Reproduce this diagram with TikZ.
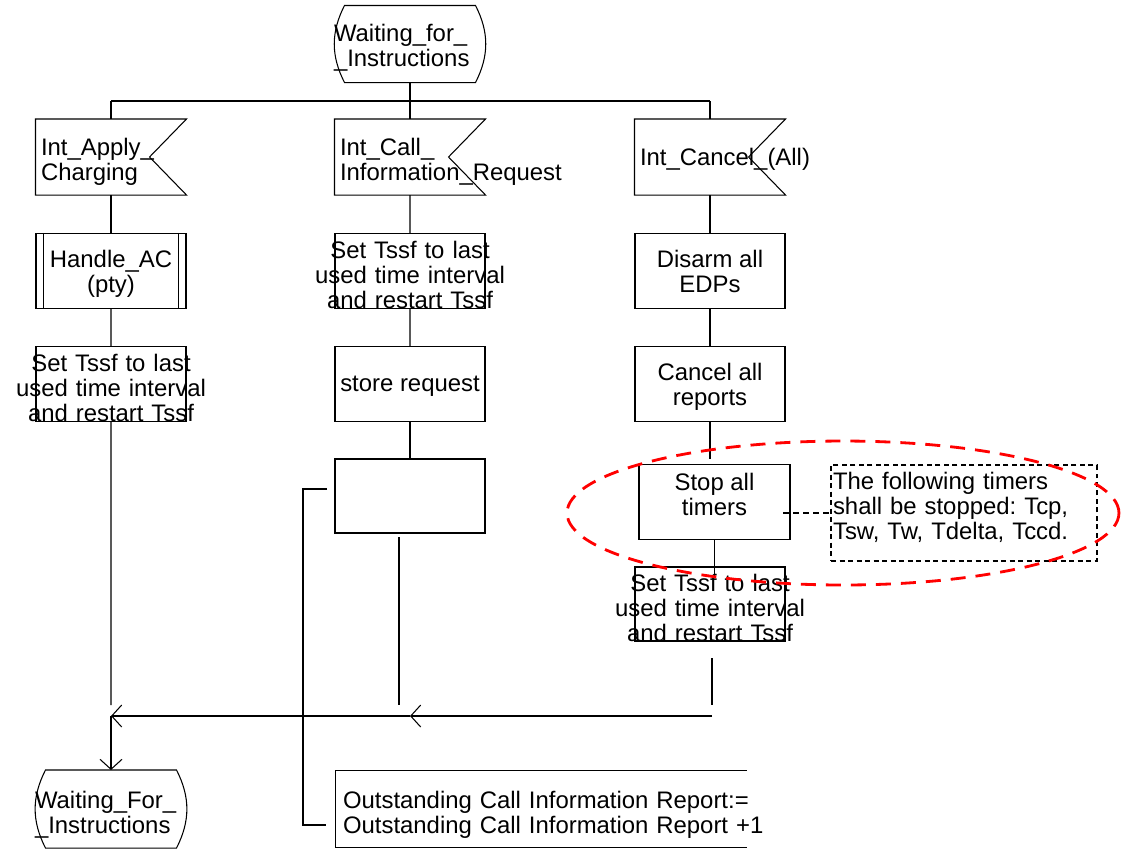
\documentclass[tikz,border=0pt]{standalone}
\usepackage{fontspec}
\setmainfont{Liberation Sans}
\usepackage{tikz}
\usetikzlibrary{arrows.meta, shapes.geometric}
\newcommand{\sdlfont}{\fontsize{13.6pt}{14.2pt}\selectfont\frenchspacing\hyphenpenalty=10000 }
% SDL symbol outlines drawn round named nodes
\newcommand{\sdlstate}[1]{\draw (#1.north west) to[bend right=27] (#1.south west)
    -- (#1.south east) to[bend right=27] (#1.north east) -- cycle;}
\newcommand{\sdlinput}[1]{\draw (#1.north west) -- (#1.north east)
    -- ([xshift=-0.74cm]#1.east) -- (#1.south east) -- (#1.south west) -- cycle;}
\newcommand{\sdlproc}[1]{\draw ([xshift=0.16cm]#1.north west) -- ([xshift=0.16cm]#1.south west)
    ([xshift=-0.16cm]#1.north east) -- ([xshift=-0.16cm]#1.south east);}
\tikzset{
    statebox/.style={minimum height=1.52cm, text width=3.04cm, inner xsep=-0.22cm,
        inner ysep=0pt, align=left, text depth=12.8pt},
    sigbox/.style={minimum width=3cm, minimum height=1.5cm, text width=2.8cm,
        inner xsep=0.1cm, inner ysep=0pt, align=left, text depth=11.1pt},
    taskbox/.style={draw, minimum width=3cm, minimum height=1.5cm, inner sep=0pt,
        align=center, text depth=-5pt},
    widetask/.style={taskbox, text width=3.9cm, inner xsep=-0.45cm, text depth=24pt},
    notebox/.style={draw, line width=0.8pt, dash pattern=on 0.1cm off 0.07cm, minimum width=5.32cm,
        minimum height=1.92cm, text width=5.24cm, inner xsep=0.04cm, inner ysep=0pt,
        align=left, text depth=36.4pt}
}
\begin{document}
\begin{tikzpicture}[x=0.02cm, y=-0.02cm, line width=0.6pt,
    every node/.style={font=\sdlfont},
    >={Straight Barb[length=2mm, width=4.4mm]}]
\useasboundingbox (0,0) rectangle (1121,850);

% start state and branch bar
\node[statebox] (start) at (410,44) {Waiting\_for\_\\\_Instructions};
\sdlstate{start}
\coordinate (top1) at (111,101);
\coordinate (top2) at (410,101);
\coordinate (top3) at (710,101);
\draw (start) -- (top2);
\draw (top1) -- (top3);

% column 1
\node[sigbox] (sig1) at (111,157) {Int\_Apply\_\\Charging};
\sdlinput{sig1}
\node[taskbox, text depth=-6.4pt] (hac) at (111,271) {Handle\_AC\\(pty)};
\sdlproc{hac}
\node[widetask] (set1) at (111,384) {Set Tssf to last\\used time interval\\and restart Tssf};
\coordinate (e1) at (111,705);
\draw (top1) -- (sig1);
\draw (sig1) -- (hac);
\draw (hac) -- (set1);
\draw (set1) -- (e1);

% column 2
\node[sigbox] (sig2) at (410,157) {Int\_Call\_\\Information\_Request};
\sdlinput{sig2}
\node[widetask] (set2) at (410,271) {Set Tssf to last\\used time interval\\and restart Tssf};
\node[taskbox] (store) at (410,384) {store request};
\node[taskbox, minimum height=1.48cm] (empty) at (410,496) {};
\coordinate (b2) at (399,537);
\coordinate (e2) at (399,705);
\draw (top2) -- (sig2);
\draw (sig2) -- (set2);
\draw (set2) -- (store);
\draw (store) -- (empty);
\draw (b2) -- (e2);

% column 3
\node[sigbox, text depth=-6pt] (sig3) at (710,157) {Int\_Cancel\_(All)};
\sdlinput{sig3}
\node[taskbox] (disarm) at (710,271) {Disarm all\\EDPs};
\node[taskbox] (cancel) at (710,384) {Cancel all\\reports};
\node[taskbox, minimum width=3.02cm, text depth=9pt] (stop) at (714.5,502) {Stop all\\timers};
\node[widetask, minimum height=1.48cm] (set3) at (710,604) {Set Tssf to last\\used time interval\\and restart Tssf};
\coordinate (s3) at (710,459);
\coordinate (t3) at (714.5,576);
\coordinate (c3a) at (712,658);
\coordinate (c3b) at (712,705);
\draw (top3) -- (sig3);
\draw (sig3) -- (disarm);
\draw (disarm) -- (cancel);
\draw (cancel) -- (s3);
\draw (stop) -- (t3);
\draw (c3a) -- (c3b);

% comment on the timers
\node[notebox] (note) at (964,513) {The following timers\\shall be stopped: Tcp,\\Tsw, Tw, Tdelta, Tccd.};
\coordinate (d1) at (783,513);
\draw[dash pattern=on 0.12cm off 0.08cm] (d1) -- (note.west);

% merge and next state
\coordinate (j3) at (712,716);
\coordinate (j2) at (410,716);
\coordinate (j1) at (111,716);
\node[statebox, minimum height=1.54cm, text depth=10.6pt] (fin) at (111,809) {Waiting\_For\_\\\_Instructions};
\sdlstate{fin}
\draw[->] (j3) -- (j2);
\draw[->] (j2) -- (j1);
\draw[->] (j1) -- (fin.north);

% counter update, open on the right
\node[minimum width=8.2cm, minimum height=1.52cm, text width=7.92cm, inner xsep=0.14cm,
    inner ysep=0pt, align=left, text depth=10pt] (outst) at (541,809)
    {\mbox{Outstanding Call Information Report:=}\\\mbox{Outstanding Call Information Report +1}};
\draw (outst.north east) -- (outst.north west) -- (outst.south west) -- (outst.south east);
\coordinate (k1) at (327,489);
\coordinate (k2) at (303,489);
\coordinate (k3) at (303,825);
\coordinate (k4) at (326,825);
\draw (k1) -- (k2) -- (k3) -- (k4);

% highlight
\node[ellipse, draw=red, line width=1.6pt, dash pattern=on 0.3cm off 0.2cm,
    minimum width=11.04cm, minimum height=2.88cm, inner sep=0pt] (hilite) at (843,513) {};
\end{tikzpicture}
\end{document}
